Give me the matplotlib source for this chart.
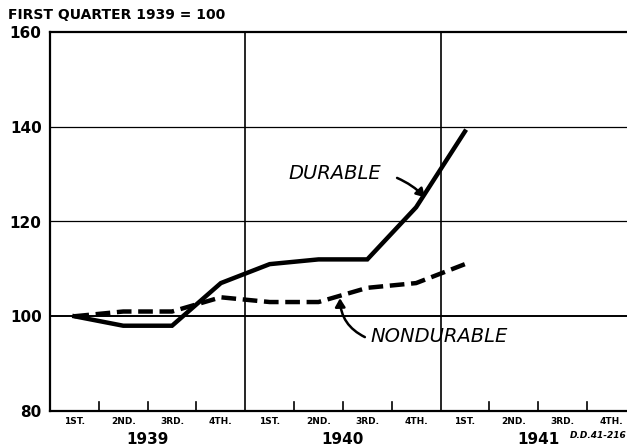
import matplotlib.pyplot as plt

# quarterly index, first quarter 1939 = 100
quarters = ["1ST.", "2ND.", "3RD.", "4TH."] * 3
years = ["1939", "1940", "1941"]
durable = [100, 98, 98, 107, 111, 112, 112, 123, 139]
nondurable = [100, 101, 101, 104, 103, 103, 106, 107, 111]

plt.rcParams['font.family'] = ['DejaVu Sans']

fig = plt.figure(figsize=(6.27, 4.48), dpi=100)
ax = fig.add_axes([50 / 627, 37 / 448, 577 / 627, 379 / 448])

x = [i + 0.5 for i in range(len(durable))]

# grid: horizontal reference lines and year separators
for y in (120, 140):
    ax.axhline(y, color="black", lw=0.9, zorder=1)
ax.axhline(100, color="black", lw=1.4, zorder=1)
for xv in (4, 8):
    ax.axvline(xv, color="black", lw=1.2, zorder=1)
# small quarter ticks along the bottom
for xv in range(1, 12):
    if xv % 4:
        ax.plot([xv, xv], [80, 81.8], color="black", lw=1.2, zorder=1)

ax.plot(x, durable, color="black", lw=3.2, solid_joinstyle="miter", zorder=3)
ax.plot(x, nondurable, color="black", lw=3.2, dashes=(3.3, 1.5), zorder=3)

ax.set_xlim(0, 11.82)
ax.set_ylim(80, 160)
ax.spines["right"].set_visible(False)
for s in ("left", "bottom", "top"):
    ax.spines[s].set_linewidth(1.6)

ax.set_yticks([80, 100, 120, 140, 160])
ax.set_yticklabels(["80", "100", "120", "140", "160"], fontweight="bold")
ax.tick_params(axis="y", length=0, pad=6, labelsize=11)
ax.set_xticks([i + 0.5 for i in range(12)])
ax.set_xticklabels(quarters, fontsize=6.5, fontweight="bold")
ax.tick_params(axis="x", length=0, pad=4)

for pos, yr in zip([2, 6, 10], years):
    ax.text(pos, 75.5, yr, ha="center", va="top", fontsize=11,
            fontweight="bold")
ax.text(11.82, 75.7, "D.D.41-216", ha="right", va="top", fontsize=6.5,
        style="italic", fontweight="bold")

fig.text(8 / 627, 1 - 15 / 448, "FIRST QUARTER 1939 = 100", ha="left",
         va="center", fontsize=10, fontweight="bold")

ax.text(4.88, 130.2, "DURABLE", fontsize=14, style="italic", va="center",
        ha="left")
ax.annotate("", xy=(7.68, 125.1), xytext=(7.11, 129.2),
            arrowprops=dict(arrowstyle="-|>,head_length=0.5,head_width=0.3",
                            color="black", lw=1.8,
                            connectionstyle="arc3,rad=-0.1", shrinkA=0,
                            shrinkB=0))
ax.text(6.56, 95.8, "NONDURABLE", fontsize=14, style="italic", va="center",
        ha="left")
ax.annotate("", xy=(5.94, 103.8), xytext=(6.45, 95.6),
            arrowprops=dict(arrowstyle="-|>,head_length=0.5,head_width=0.3",
                            color="black", lw=1.8,
                            connectionstyle="arc3,rad=-0.3", shrinkA=0,
                            shrinkB=0))

fig.savefig("out.png", dpi=100)
